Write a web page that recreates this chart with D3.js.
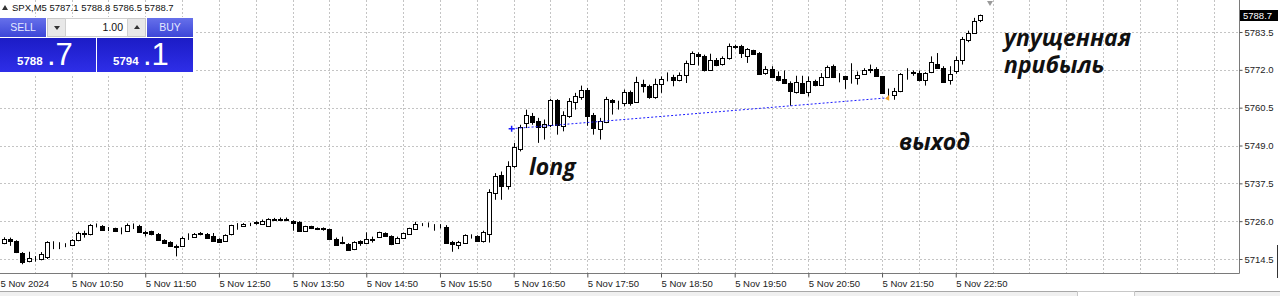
<!DOCTYPE html>
<html>
<head>
<meta charset="utf-8">
<script src="https://cdn.jsdelivr.net/npm/d3@7"></script>
<style>
  body { margin: 0; background: #fff; }
  svg { display: block; font-family: "Liberation Sans", Arial, sans-serif; }
</style>
</head>
<body>
<script>
// SPX M5, 5 Nov 2024, first bar 09:55, one bar per 5 minutes
var opens = [5719.3,5720.7,5719.9,5716.3,5713.8,5714.6,5714.4,5715.1,5719.5,5718.9,5718.6,5718.7,5720.2,5722.4,5722.0,5724.7,5724.6,5723.6,5723.8,5723.1,
  5723.1,5724.6,5724.6,5722.8,5722.9,5722.2,5720.3,5719.7,5718.0,5718.5,5721.6,5721.3,5722.2,5722.0,5721.5,5720.5,5720.0,5722.0,5724.8,5724.6,
  5725.1,5725.5,5725.1,5724.6,5726.6,5726.8,5726.8,5726.1,5725.8,5723.1,5724.4,5723.8,5723.8,5723.6,5720.7,5719.6,5719.0,5717.5,5720.0,5719.5,
  5720.5,5721.3,5722.4,5721.5,5719.3,5721.0,5722.0,5723.6,5725.1,5725.0,5724.9,5724.8,5724.1,5719.7,5718.7,5719.5,5721.6,5721.5,5720.0,5722.0,
  5734.6,5740.1,5736.6,5742.9,5747.9,5755.8,5758.1,5756.3,5754.6,5755.3,5762.9,5755.0,5758.1,5762.1,5763.8,5765.8,5758.4,5754.0,5756.0,5762.9,
  5762.3,5762.0,5765.4,5762.1,5767.8,5767.2,5763.7,5767.6,5769.4,5769.9,5768.8,5770.5,5773.9,5776.9,5776.1,5771.8,5774.9,5773.9,5775.6,5779.3,
  5779.2,5776.1,5777.9,5777.2,5771.0,5772.2,5770.1,5769.2,5767.9,5765.4,5768.1,5765.2,5768.5,5767.5,5769.8,5773.1,5770.1,5770.0,5769.6,5769.5,
  5770.8,5772.2,5772.2,5770.0,5765.0,5764.5,5765.7,5771.0,5771.1,5771.1,5769.0,5771.2,5773.9,5772.6,5768.9,5771.5,5775.0,5781.0,5783.3,5787.1];
var highs = [5721.1,5721.0,5720.2,5716.6,5716.7,5715.4,5716.6,5719.9,5719.9,5719.6,5719.3,5720.5,5722.8,5723.1,5725.1,5725.3,5724.8,5724.2,5724.0,5724.1,
  5725.3,5725.3,5724.9,5723.1,5723.1,5722.4,5720.5,5719.9,5718.9,5721.3,5722.3,5722.4,5722.7,5722.4,5722.4,5720.8,5722.0,5724.9,5725.4,5725.4,
  5725.5,5726.0,5726.5,5726.9,5727.0,5727.1,5727.1,5726.3,5726.0,5724.6,5724.6,5724.1,5724.1,5723.7,5721.0,5721.3,5719.3,5719.9,5720.2,5722.6,
  5721.3,5722.8,5722.6,5721.7,5721.3,5722.5,5724.0,5725.8,5725.4,5725.6,5725.1,5725.1,5724.8,5720.0,5720.0,5722.0,5722.0,5721.7,5723.1,5735.7,
  5740.6,5741.1,5744.2,5749.8,5755.3,5759.9,5758.9,5757.4,5756.9,5763.2,5763.1,5759.4,5763.4,5765.0,5767.2,5766.5,5758.9,5757.4,5763.8,5763.1,
  5762.6,5766.0,5765.7,5769.9,5769.0,5767.5,5769.3,5770.0,5771.2,5770.5,5771.2,5774.8,5777.6,5777.3,5776.6,5776.9,5775.6,5776.1,5780.0,5779.6,
  5779.6,5778.6,5778.1,5777.4,5773.1,5773.1,5771.5,5771.8,5768.5,5770.2,5770.2,5770.0,5769.0,5771.0,5773.3,5773.6,5771.0,5770.2,5774.0,5771.5,
  5772.5,5773.6,5772.8,5770.1,5766.3,5766.5,5771.0,5772.5,5771.8,5771.8,5771.3,5776.1,5777.1,5773.1,5773.1,5776.1,5782.0,5783.9,5787.8,5788.8];
var lows = [5719.0,5718.5,5716.3,5712.9,5713.5,5713.7,5714.1,5714.5,5717.5,5717.5,5718.1,5718.4,5719.9,5721.0,5721.7,5724.1,5723.3,5723.0,5722.7,5722.0,
  5722.8,5723.6,5722.4,5721.4,5721.7,5720.1,5719.3,5718.2,5715.3,5718.2,5720.3,5721.1,5721.7,5720.8,5719.8,5719.5,5719.8,5721.7,5723.4,5724.3,
  5724.5,5724.9,5724.9,5724.3,5726.2,5726.2,5726.0,5723.1,5722.8,5722.9,5723.6,5723.3,5723.1,5720.5,5718.5,5719.0,5717.0,5717.2,5718.5,5719.3,
  5719.5,5721.1,5721.3,5718.7,5719.1,5720.8,5721.8,5723.4,5724.5,5724.1,5723.1,5723.8,5719.3,5716.7,5717.5,5719.3,5720.7,5719.8,5719.5,5719.5,
  5732.5,5732.5,5735.6,5742.2,5747.2,5754.3,5755.3,5749.8,5750.8,5754.6,5752.3,5753.3,5757.4,5759.9,5762.9,5755.0,5752.3,5750.8,5755.8,5758.4,
  5759.9,5760.9,5761.1,5762.0,5765.1,5763.2,5763.2,5765.0,5768.5,5767.0,5768.5,5768.0,5773.6,5773.3,5771.5,5771.7,5773.1,5773.3,5775.1,5778.4,
  5775.6,5774.1,5776.6,5770.5,5770.5,5769.5,5768.5,5767.8,5761.1,5764.8,5764.8,5763.9,5767.0,5767.2,5769.5,5769.5,5768.2,5766.2,5767.8,5767.5,
  5770.5,5771.0,5770.0,5764.8,5762.9,5762.9,5765.2,5769.0,5770.2,5768.5,5767.2,5771.0,5772.3,5768.0,5767.5,5770.8,5773.6,5780.4,5783.0,5786.5];
var closes = [5720.5,5720.0,5716.6,5713.7,5714.9,5714.5,5716.0,5719.6,5719.3,5718.7,5718.5,5720.3,5722.5,5722.2,5724.8,5724.8,5723.4,5723.5,5722.9,5723.0,
  5724.8,5724.5,5722.6,5722.5,5722.0,5720.3,5719.5,5718.5,5718.5,5721.0,5721.4,5722.0,5722.3,5721.0,5720.0,5719.7,5721.7,5724.8,5724.7,5725.1,
  5725.0,5725.6,5726.1,5726.6,5726.5,5726.4,5726.3,5725.4,5723.1,5724.4,5723.8,5723.7,5723.6,5720.7,5718.7,5719.5,5717.3,5719.7,5719.3,5720.7,
  5720.4,5722.6,5721.5,5719.2,5721.0,5722.3,5723.8,5725.1,5725.0,5725.1,5724.8,5724.7,5719.5,5719.0,5719.7,5721.7,5721.5,5720.0,5722.7,5734.8,
  5739.6,5736.6,5742.7,5748.6,5754.6,5758.4,5756.0,5754.6,5755.6,5762.9,5755.3,5758.4,5762.4,5764.1,5765.8,5758.1,5754.3,5756.3,5763.1,5762.2,
  5762.2,5765.4,5762.0,5768.4,5767.2,5763.7,5767.6,5769.2,5769.5,5769.0,5770.5,5774.2,5777.2,5776.2,5771.8,5775.1,5773.6,5775.6,5779.3,5778.9,
  5777.1,5778.3,5776.9,5770.8,5772.3,5769.8,5769.0,5768.0,5765.5,5768.4,5764.9,5768.7,5767.5,5769.8,5772.9,5769.8,5770.0,5769.2,5769.5,5770.5,
  5772.0,5772.1,5770.2,5765.0,5764.9,5765.5,5770.8,5770.9,5771.2,5768.8,5771.1,5774.5,5772.6,5768.4,5770.7,5774.9,5781.3,5783.3,5786.9,5788.7];

var priceTicks = [5714.5, 5726.0, 5737.5, 5749.0, 5760.5, 5772.0, 5783.5];
var timeTickBars = [-1, 11, 23, 35, 47, 59, 71, 83, 95, 107, 119, 131, 143, 155];
var timeTickLabels = ["5 Nov 2024", "5 Nov 10:50", "5 Nov 11:50", "5 Nov 12:50", "5 Nov 13:50", "5 Nov 14:50", "5 Nov 15:50",
  "5 Nov 16:50", "5 Nov 17:50", "5 Nov 18:50", "5 Nov 19:50", "5 Nov 20:50", "5 Nov 21:50", "5 Nov 22:50"];
var tradeBars = [83, 144];
var tradePrices = [5754.1, 5763.5];
var lastPrice = 5788.7;
var bidPrice = ["5788", ".7"];
var askPrice = ["5794", ".1"];

var w = 1280, h = 296;
var plotRight = 1239, plotBottom = 273;

var svg = d3.select("body").append("svg")
  .attr("width", w)
  .attr("height", h);

var x = d3.scaleLinear().domain([0, 159]).range([4, 980.3]);
var y = d3.scaleLinear().domain([5714.5, 5783.5]).range([259, 32]);

// grid
var vGrid = d3.range(5, 200, 6).filter(function(i) { return x(i) < plotRight; });
svg.append("g").selectAll("line")
  .data(vGrid)
  .enter().append("line")
    .attr("x1", function(d) { return Math.round(x(d)) + 0.5; })
    .attr("x2", function(d) { return Math.round(x(d)) + 0.5; })
    .attr("y1", 0)
    .attr("y2", plotBottom)
    .attr("stroke", "#c4c4c4")
    .attr("stroke-dasharray", "2,2");

svg.append("g").selectAll("line")
  .data(priceTicks)
  .enter().append("line")
    .attr("x1", 0)
    .attr("x2", plotRight)
    .attr("y1", function(d) { return Math.round(y(d)) + 0.5; })
    .attr("y2", function(d) { return Math.round(y(d)) + 0.5; })
    .attr("stroke", "#c4c4c4")
    .attr("stroke-dasharray", "2,2");

// candles
var bars = d3.range(opens.length);
var candles = svg.append("g").selectAll("g")
  .data(bars)
  .enter().append("g");

candles.append("line")
  .attr("x1", function(i) { return Math.round(x(i)) + 0.5; })
  .attr("x2", function(i) { return Math.round(x(i)) + 0.5; })
  .attr("y1", function(i) { return y(Math.max(highs[i], opens[i], closes[i])); })
  .attr("y2", function(i) { return y(Math.min(lows[i], opens[i], closes[i])); })
  .attr("stroke", "#000");

candles.append("rect")
  .attr("x", function(i) { return Math.round(x(i)) - 1.5; })
  .attr("width", 4)
  .attr("y", function(i) { return Math.round(y(Math.max(opens[i], closes[i]))) + 0.5; })
  .attr("height", function(i) {
    return Math.max(0, Math.round(y(Math.min(opens[i], closes[i]))) - Math.round(y(Math.max(opens[i], closes[i]))));
  })
  .attr("fill", function(i) { return closes[i] >= opens[i] ? "#fff" : "#000"; })
  .attr("stroke", "#000");

// trade line
svg.append("line")
  .attr("x1", x(tradeBars[0]) - 2)
  .attr("y1", y(tradePrices[0]))
  .attr("x2", x(tradeBars[1]))
  .attr("y2", y(tradePrices[1]))
  .attr("stroke", "#1a1aff")
  .attr("stroke-dasharray", "2,2");

var ex = x(tradeBars[0]) - 2, ey = y(tradePrices[0]);
svg.append("path")
  .attr("d", "M" + (ex - 3) + "," + ey + "h6M" + ex + "," + (ey - 3) + "v6")
  .attr("stroke", "#1a1aff")
  .attr("stroke-width", 1.5);

var qx = x(tradeBars[1]), qy = y(tradePrices[1]);
svg.append("path")
  .attr("d", "M" + (qx - 3) + "," + (qy + 1) + "L" + (qx + 1) + "," + (qy - 3) + "L" + (qx + 1) + "," + (qy + 3) + "Z")
  .attr("fill", "#f0a020");

// frame
svg.append("path")
  .attr("d", "M0," + (plotBottom + 0.5) + "H" + (plotRight + 0.5) + "V0")
  .attr("fill", "none")
  .attr("stroke", "#7a7a7a");

// price axis
var yAxis = d3.axisRight(y)
  .tickValues(priceTicks)
  .tickFormat(d3.format(".1f"))
  .tickSize(3)
  .tickPadding(2);

var ya = svg.append("g")
  .attr("transform", "translate(" + (plotRight + 0.5) + ",0)")
  .call(yAxis);
ya.select(".domain").remove();
ya.selectAll("text").style("font-size", "9.5px").attr("fill", "#222");
ya.selectAll("line").attr("stroke", "#555");

// current price label
svg.append("rect")
  .attr("x", plotRight + 1)
  .attr("y", Math.round(y(lastPrice)) - 5)
  .attr("width", 38)
  .attr("height", 11)
  .attr("fill", "#000");
svg.append("text")
  .attr("x", plotRight + 4)
  .attr("y", Math.round(y(lastPrice)) + 4)
  .attr("fill", "#fff")
  .style("font-size", "9.5px")
  .text(d3.format(".1f")(lastPrice));

// time axis
var xAxis = d3.axisBottom(x)
  .tickValues(timeTickBars)
  .tickFormat(function(d) { return timeTickLabels[timeTickBars.indexOf(d)]; })
  .tickSize(4)
  .tickPadding(3);

var xa = svg.append("g")
  .attr("transform", "translate(0," + (plotBottom + 0.5) + ")")
  .call(xAxis);
xa.select(".domain").remove();
xa.selectAll("text")
  .attr("text-anchor", "start")
  .attr("dx", function(d) { return x(d) < 0 ? -x(d) : 0; })
  .style("font-size", "9.5px")
  .attr("fill", "#222");
xa.selectAll("line").attr("stroke", "#555");

// shift marker
svg.append("path")
  .attr("d", "M987,1L993,1L990,6Z")
  .attr("fill", "#9a9a9a");

// annotations
function note(tx, ty, t) {
  svg.append("text")
    .attr("x", tx)
    .attr("y", ty)
    .style("font-family", "'Open Sans', sans-serif")
    .style("font-weight", "700")
    .style("font-style", "italic")
    .style("font-size", "23px")
    .attr("fill", "#111")
    .text(t);
}
note(529, 175, "long");
note(899, 150, "выход");
note(1004, 46, "упущенная");
note(1004, 73, "прибыль");

// symbol line
svg.append("path").attr("d", "M2,10L5,5L8,10Z").attr("fill", "#333");
svg.append("text")
  .attr("x", 12)
  .attr("y", 11)
  .style("font-size", "9.5px")
  .attr("fill", "#111")
  .text("SPX,M5  5787.1 5788.8 5786.5 5788.7");

// one click trading panel
var defs = svg.append("defs");
var g1 = defs.append("linearGradient").attr("id", "btn").attr("x1", 0).attr("y1", 0).attr("x2", 0).attr("y2", 1);
g1.append("stop").attr("offset", "0").attr("stop-color", "#6670ea");
g1.append("stop").attr("offset", "1").attr("stop-color", "#3c46d8");
var g2 = defs.append("linearGradient").attr("id", "big").attr("x1", 0).attr("y1", 0).attr("x2", 0).attr("y2", 1);
g2.append("stop").attr("offset", "0").attr("stop-color", "#1c1cc6");
g2.append("stop").attr("offset", "1").attr("stop-color", "#2e2ee8");

var panel = svg.append("g");
panel.append("rect").attr("x", 0).attr("y", 17).attr("width", 195).attr("height", 57).attr("fill", "#fff");
panel.append("rect").attr("x", 0).attr("y", 18).attr("width", 46).attr("height", 19).attr("fill", "url(#btn)");
panel.append("rect").attr("x", 147).attr("y", 18).attr("width", 46).attr("height", 19).attr("fill", "url(#btn)");
panel.append("text").attr("x", 23).attr("y", 31).attr("text-anchor", "middle").style("font-size", "10.5px").attr("fill", "#e4e8ff").text("SELL");
panel.append("text").attr("x", 170).attr("y", 31).attr("text-anchor", "middle").style("font-size", "10.5px").attr("fill", "#e4e8ff").text("BUY");
panel.append("rect").attr("x", 47.5).attr("y", 18.5).attr("width", 18).attr("height", 18).attr("fill", "#e8e8e8").attr("stroke", "#c8c8c8");
panel.append("rect").attr("x", 127.5).attr("y", 18.5).attr("width", 18).attr("height", 18).attr("fill", "#e8e8e8").attr("stroke", "#c8c8c8");
panel.append("rect").attr("x", 65.5).attr("y", 18.5).attr("width", 62).attr("height", 18).attr("fill", "#fff").attr("stroke", "#d0d0d0");
panel.append("path").attr("d", "M54,26L60,26L57,30Z").attr("fill", "#333");
panel.append("path").attr("d", "M134,29L140,29L137,25Z").attr("fill", "#333");
panel.append("text").attr("x", 123).attr("y", 31).attr("text-anchor", "end").style("font-size", "10.5px").attr("fill", "#111").text("1.00");
panel.append("rect").attr("x", 0).attr("y", 38).attr("width", 96).attr("height", 34).attr("fill", "url(#big)");
panel.append("rect").attr("x", 97).attr("y", 38).attr("width", 96).attr("height", 34).attr("fill", "url(#big)");

function quote(qx0, parts) {
  panel.append("text").attr("x", qx0).attr("y", 65).style("font-size", "11.5px").style("font-weight", "700").attr("fill", "#fff").text(parts[0] + " ");
  panel.append("text").attr("x", qx0 + 30).attr("y", 65).style("font-size", "31px").attr("fill", "#fff").text(parts[1]);
}
quote(17, bidPrice);
quote(113, askPrice);

// bottom tabs strip
svg.append("rect").attr("x", 0).attr("y", 291).attr("width", w).attr("height", 5).attr("fill", "#f0f0f0");
svg.append("line").attr("x1", 0).attr("x2", 1077).attr("y1", 291.5).attr("y2", 291.5).attr("stroke", "#a8a8a8");
svg.append("line").attr("x1", 1135).attr("x2", w).attr("y1", 291.5).attr("y2", 291.5).attr("stroke", "#a8a8a8");
svg.append("rect").attr("x", 1077.5).attr("y", 291.5).attr("width", 57).attr("height", 6).attr("fill", "#fff").attr("stroke", "#c8c8c8");
svg.append("line").attr("x1", 1277.5).attr("x2", 1277.5).attr("y1", 245).attr("y2", 278).attr("stroke", "#333");
</script>
</body>
</html>
